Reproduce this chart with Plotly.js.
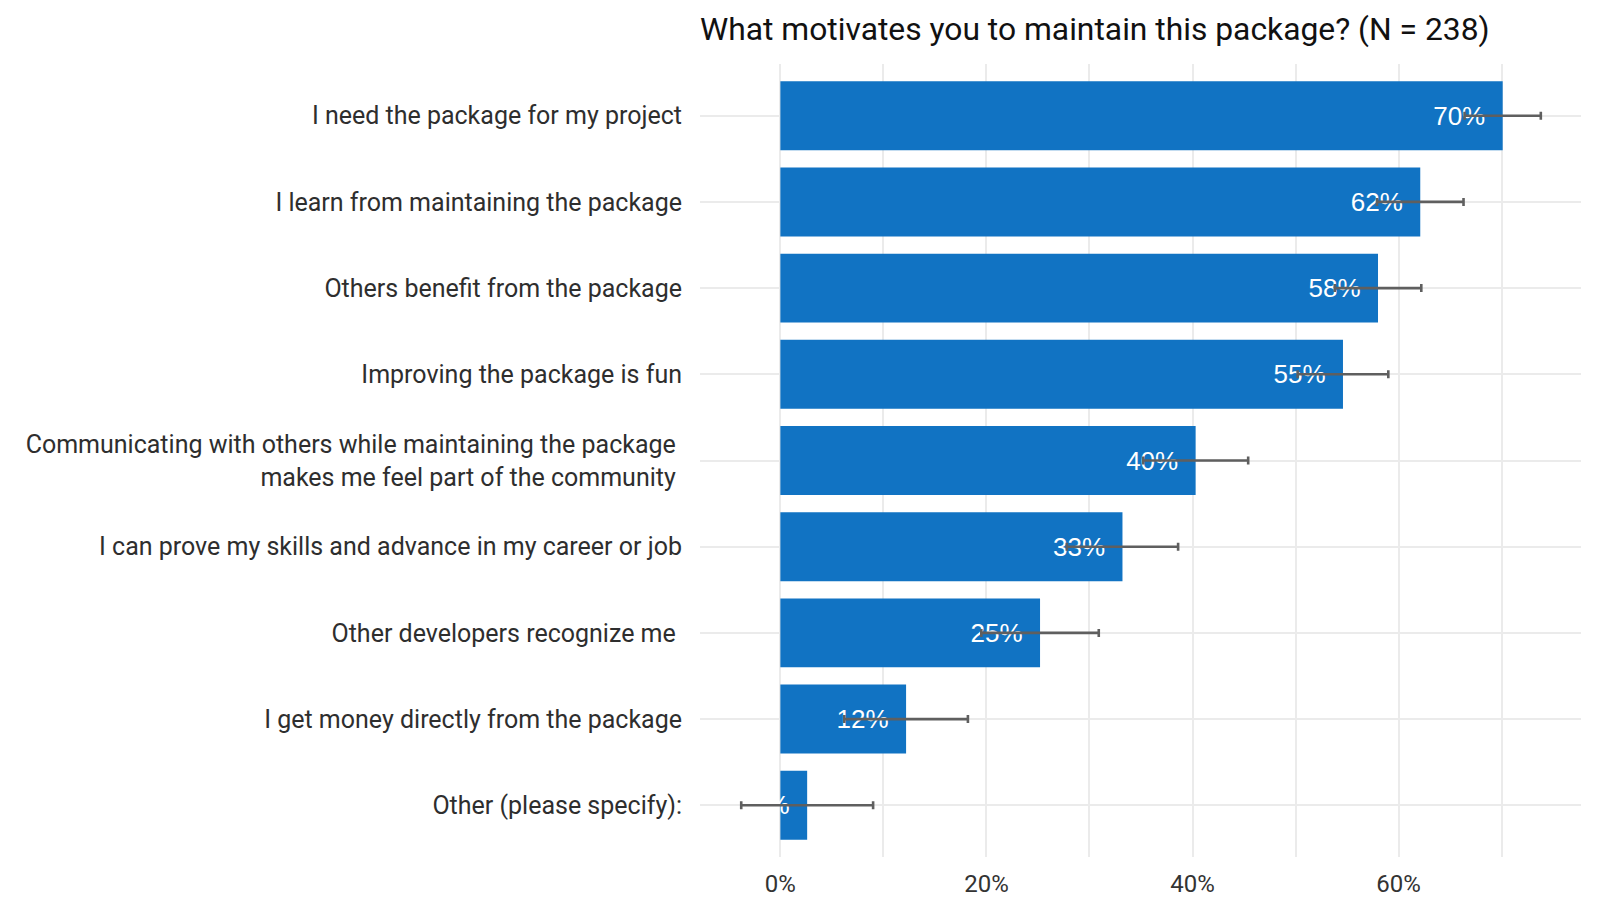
<!DOCTYPE html>
<html>
<head>
<meta charset="utf-8">
<script src="https://cdn.plot.ly/plotly-3.0.1.min.js"></script>
<style>html,body{margin:0;padding:0;background:#fff;}#chart{width:1600px;height:914px;}</style>
</head>
<body>
<div id="chart"></div>
<script>
// Categories, top to bottom
var categories = [
  "I need the package for my project",
  "I learn from maintaining the package",
  "Others benefit from the package",
  "Improving the package is fun",
  "Communicating with others while maintaining the package\u00a0<br>makes me feel part of the community\u00a0",
  "I can prove my skills and advance in my career or job",
  "Other developers recognize me\u00a0",
  "I get money directly from the package",
  "Other (please specify):"
];
// Share of respondents (%)
var shares = [70.1, 62.1, 58.0, 54.6, 40.3, 33.2, 25.2, 12.2, 2.6];
// Half-width of the interval (%)
var errors = [3.7, 4.2, 4.2, 4.4, 5.1, 5.4, 5.7, 6.0, 6.4];
// Bar labels
var labels = ["70%", "62%", "58%", "55%", "40%", "33%", "25%", "12%", "3%"];
var xTicks = [0, 20, 40, 60];
var xTickText = ["0%", "20%", "40%", "60%"];

var mainFont = "Roboto, sans-serif";

var barTrace = {
  type: "bar",
  orientation: "h",
  x: shares,
  y: categories,
  marker: {color: "#1173c3", line: {width: 0}},
  text: labels.map(function (t) { return t + "\u00a0\u00a0"; }),
  textposition: "inside",
  insidetextanchor: "end",
  constraintext: "none",
  textangle: 0,
  insidetextfont: {family: "Liberation Sans, Arial, sans-serif", size: 26, color: "#ffffff"},
  cliponaxis: false,
  error_x: {type: "data", array: errors, visible: true, color: "#5f5f5f", thickness: 2.6, width: 4},
  hoverinfo: "none",
  showlegend: false
};

var layout = {
  width: 1600, height: 914,
  paper_bgcolor: "#ffffff", plot_bgcolor: "#ffffff",
  margin: {l: 700, r: 19, t: 64, b: 57, pad: 0},
  bargap: 0.2,
  title: {
    text: "What motivates you to maintain this package? (N = 238)",
    x: 0, xref: "paper", xanchor: "left",
    y: 1 - 29 / 914, yref: "container", yanchor: "middle",
    font: {family: mainFont, size: 31.8, color: "#111111"}
  },
  xaxis: {
    range: [-7.8, 77.7],
    tickvals: xTicks, ticktext: xTickText,
    showgrid: true, gridcolor: "#ebebeb", gridwidth: 2,
    minor: {dtick: 10, tick0: 0, showgrid: true, gridcolor: "#ebebeb", gridwidth: 2},
    zeroline: false, showline: false, ticks: "",
    ticklabelstandoff: 10,
    tickfont: {family: mainFont, size: 24, color: "#333333"},
    fixedrange: true
  },
  yaxis: {
    type: "category",
    categoryorder: "array", categoryarray: categories,
    range: [8.6, -0.6],
    showgrid: true, gridcolor: "#ebebeb", gridwidth: 2,
    zeroline: false, showline: false, ticks: "",
    ticklabelstandoff: 17,
    tickfont: {family: mainFont, size: 25, color: "#2e2e2e"},
    fixedrange: true
  },
  showlegend: false
};

Plotly.newPlot("chart", [barTrace], layout, {displayModeBar: false, staticPlot: true});
</script>
</body>
</html>
